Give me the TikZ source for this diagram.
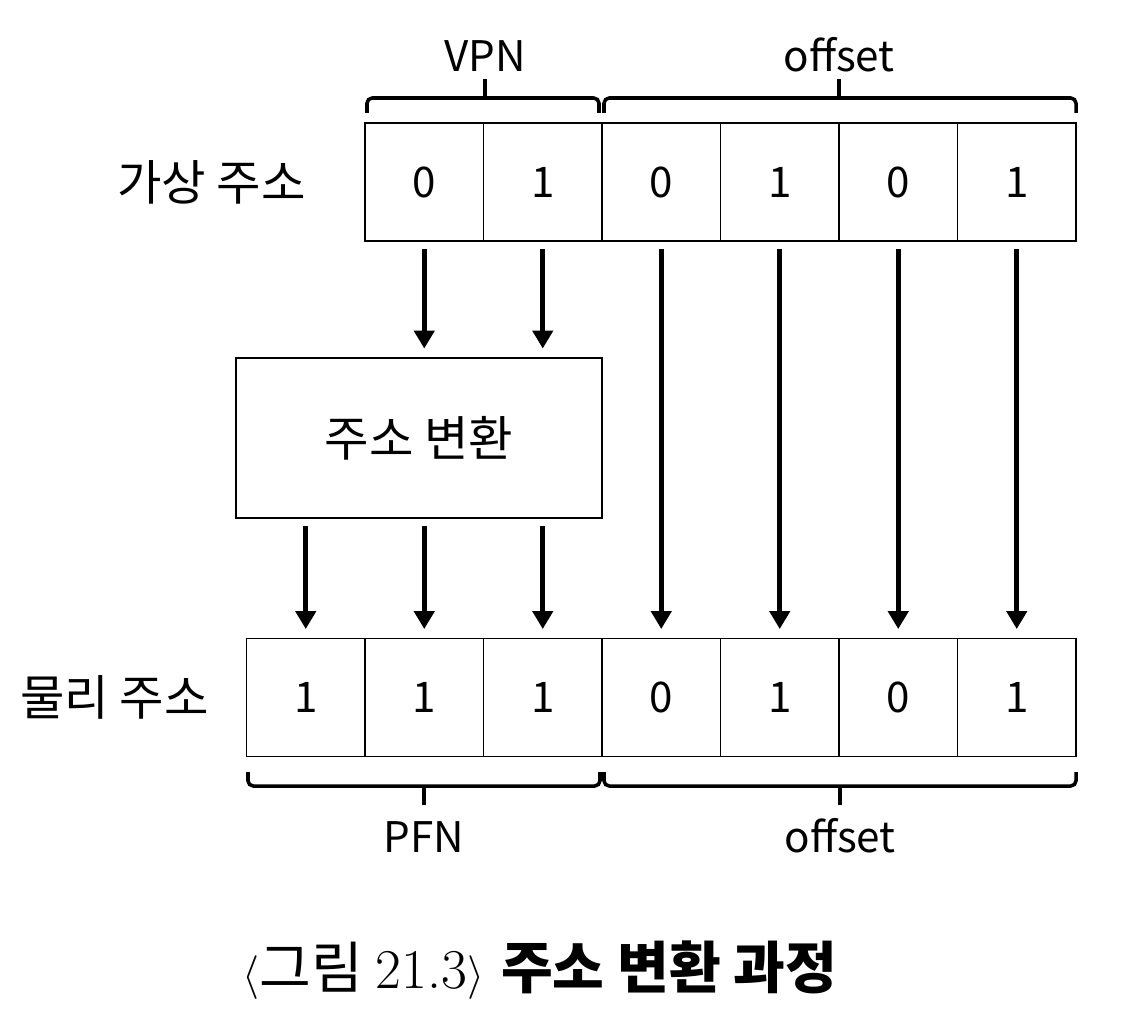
\documentclass[tikz,border=0pt]{standalone}
\usepackage{fontspec}
\setsansfont{Noto Sans CJK KR}
\newfontfamily\krfont{Noto Sans CJK KR}
\usetikzlibrary{arrows.meta}

\tikzset{
  cell/.style={draw, line width=1.1pt, minimum width=2.37cm, minimum height=2.36cm, inner sep=0pt, font=\sffamily\fontsize{24}{28}\selectfont},
  lbl/.style={inner sep=0pt, font=\sffamily\fontsize{24}{28}\selectfont},
  krlbl/.style={inner sep=0pt, font=\sffamily\fontsize{27.5}{32}\selectfont},
  bracket/.style={line width=2pt, rounded corners=3pt},
  flow/.style={->, line width=3.1pt, shorten <=0.15cm, shorten >=0.17cm}
}

\begin{document}
\begin{tikzpicture}[x=0.02cm, y=-0.02cm, >={Triangle[length=0.36cm, width=0.40cm]}]
		\useasboundingbox (0,0) rectangle (1126,1024);
		
		% Virtual address cells
		\foreach \b [count=\i] in {0,1,0,1,0,1}
			\node[cell] (virt\i) at ({365+(\i-0.5)*118.5},182) {\b};
		
		% Physical address cells
		\foreach \b [count=\i] in {1,1,1,0,1,0,1}
			\node[cell] (phys\i) at ({246.5+(\i-0.5)*118.5},697.5) {\b};
		
		% Translation box
		\node[draw, line width=1.1pt, minimum width=7.32cm, minimum height=3.2cm, krlbl] (trans) at (419,438) {주소 변환};
		
		% Row labels
		\node[krlbl, anchor=east] (vlabel) at (306,182) {가상 주소};
		\node[krlbl, anchor=east] (plabel) at (209,697.5) {물리 주소};
		
		% Top brackets
		\draw[bracket] (367,113) -- (367,98) -- (599,98) -- (599,113);
		\draw[bracket] (485,98) -- (485,79);
		\node[lbl, anchor=base] (vpn) at (485,72) {VPN};
		
		\draw[bracket] (604,113) -- (604,98) -- (1076,98) -- (1076,113);
		\draw[bracket] (839,98) -- (839,79);
		\node[lbl, anchor=base] (voffset) at (839,72) {offset};
		
		% Bottom brackets
		\draw[bracket] (248,772) -- (248,786) -- (600,786) -- (600,772);
		\draw[bracket] (424,786) -- (424,805);
		\node[lbl, anchor=base] (pfn) at (424,852) {PFN};
		
		\draw[bracket] (604,772) -- (604,786) -- (1076,786) -- (1076,772);
		\draw[bracket] (840,786) -- (840,805);
		\node[lbl, anchor=base] (poffset) at (840,852) {offset};
		
		% connections
		\foreach \i in {1,2}
			\draw[flow] (virt\i) -- (virt\i |- trans.north);
		
		\foreach \i in {1,2,3}
			\draw[flow] (trans.south -| phys\i) -- (phys\i);
		
		\foreach \i/\j in {3/4,4/5,5/6,6/7}
			\draw[flow] (virt\i) -- (phys\j);
		
		% Caption
		\node[inner sep=0pt, font=\fontsize{32}{36}\selectfont] (caption) at (540,970) {$\langle$\krfont 그림 \rmfamily 21.3$\rangle$ \krfont\bfseries 주소 변환 과정};
	\end{tikzpicture}
\end{document}
